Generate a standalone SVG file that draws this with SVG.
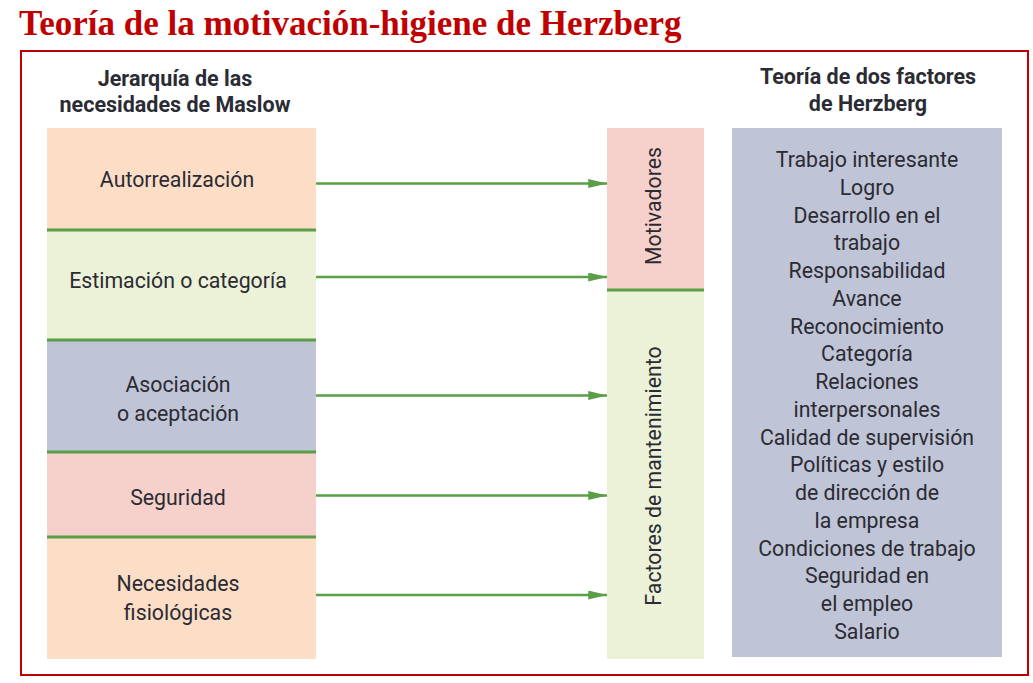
<svg xmlns="http://www.w3.org/2000/svg" width="1033" height="683" viewBox="0 0 1033 683">
<style>
.title{font-family:"Liberation Serif","Times New Roman",serif;font-weight:bold;font-size:35px;fill:#c00000}
.hd{font-family:Roboto,"Liberation Sans",sans-serif;font-weight:bold;font-size:21.5px;fill:#2b2b33;text-anchor:middle}
.lb{font-family:Roboto,"Liberation Sans",sans-serif;font-size:21.3px;fill:#2b2b33;text-anchor:middle}
.sep{stroke:#5a9e47;stroke-width:3}
.conn{stroke:#5a9e47;stroke-width:2.5;fill:none}
</style>
<defs>
<marker id="ah" viewBox="0 0 10 10" refX="10" refY="5" markerWidth="7.5" markerHeight="3.6" markerUnits="strokeWidth" orient="auto" preserveAspectRatio="none">
<path d="M0,0 L10,5 L0,10 Z" fill="#5a9e47"/>
</marker>
</defs>
<rect x="0" y="0" width="1033" height="683" fill="#ffffff"/>
<text class="title" x="19" y="35">Teoría de la motivación-higiene de Herzberg</text>
<rect x="21" y="51" width="1007" height="624" fill="none" stroke="#c00000" stroke-width="2"/>

<g id="header-maslow">
<text class="hd" x="175" y="86">Jerarquía de las</text>
<text class="hd" x="175" y="112">necesidades de Maslow</text>
</g>
<g id="header-herzberg">
<text class="hd" x="868" y="84">Teoría de dos factores</text>
<text class="hd" x="868" y="111">de Herzberg</text>
</g>

<g id="autorrealizacion">
<rect x="47" y="128" width="269" height="102" fill="#fcdec7"/>
<text class="lb" x="177" y="187">Autorrealización</text>
</g>
<g id="estimacion">
<rect x="47" y="230" width="269" height="110" fill="#ebf2d8"/>
<text class="lb" x="178" y="288">Estimación o categoría</text>
</g>
<g id="asociacion">
<rect x="47" y="340" width="269" height="112" fill="#bfc4d6"/>
<text class="lb" x="178" y="392">Asociación</text>
<text class="lb" x="178" y="421">o aceptación</text>
</g>
<g id="seguridad">
<rect x="47" y="452" width="269" height="85" fill="#f6d1cb"/>
<text class="lb" x="178" y="505">Seguridad</text>
</g>
<g id="fisiologicas">
<rect x="47" y="537" width="269" height="122" fill="#fcdec7"/>
<text class="lb" x="178" y="591">Necesidades</text>
<text class="lb" x="178" y="620">fisiológicas</text>
</g>
<g id="separators-left">
<line class="sep" x1="47" y1="230" x2="316" y2="230"/>
<line class="sep" x1="47" y1="340" x2="316" y2="340"/>
<line class="sep" x1="47" y1="452" x2="316" y2="452"/>
<line class="sep" x1="47" y1="537" x2="316" y2="537"/>
</g>

<g id="motivadores">
<rect x="607" y="128" width="97" height="162" fill="#f6d1cb"/>
<text class="lb" transform="translate(661,206) rotate(-90)" x="0" y="0">Motivadores</text>
</g>
<g id="mantenimiento">
<rect x="607" y="290" width="97" height="369" fill="#ebf2d8"/>
<text class="lb" transform="translate(661,476) rotate(-90)" x="0" y="0">Factores de mantenimiento</text>
</g>
<line class="sep" x1="607" y1="290" x2="704" y2="290"/>

<g id="herzberg-list">
<rect x="732" y="128" width="270" height="529" fill="#bfc4d6"/>
<text class="lb" x="867" y="167">Trabajo interesante</text>
<text class="lb" x="867" y="194.8">Logro</text>
<text class="lb" x="867" y="222.5">Desarrollo en el</text>
<text class="lb" x="867" y="250.3">trabajo</text>
<text class="lb" x="867" y="278">Responsabilidad</text>
<text class="lb" x="867" y="305.8">Avance</text>
<text class="lb" x="867" y="333.6">Reconocimiento</text>
<text class="lb" x="867" y="361.3">Categoría</text>
<text class="lb" x="867" y="389.1">Relaciones</text>
<text class="lb" x="867" y="416.8">interpersonales</text>
<text class="lb" x="867" y="444.6">Calidad de supervisión</text>
<text class="lb" x="867" y="472.4">Políticas y estilo</text>
<text class="lb" x="867" y="500.1">de dirección de</text>
<text class="lb" x="867" y="527.9">la empresa</text>
<text class="lb" x="867" y="555.6">Condiciones de trabajo</text>
<text class="lb" x="867" y="583.4">Seguridad en</text>
<text class="lb" x="867" y="611.2">el empleo</text>
<text class="lb" x="867" y="638.9">Salario</text>
</g>

<g id="connectors">
<line class="conn" x1="316" y1="183.5" x2="607" y2="183.5" marker-end="url(#ah)"/>
<line class="conn" x1="316" y1="277" x2="607" y2="277" marker-end="url(#ah)"/>
<line class="conn" x1="316" y1="395.5" x2="607" y2="395.5" marker-end="url(#ah)"/>
<line class="conn" x1="316" y1="495.5" x2="607" y2="495.5" marker-end="url(#ah)"/>
<line class="conn" x1="316" y1="595" x2="607" y2="595" marker-end="url(#ah)"/>
</g>
</svg>
